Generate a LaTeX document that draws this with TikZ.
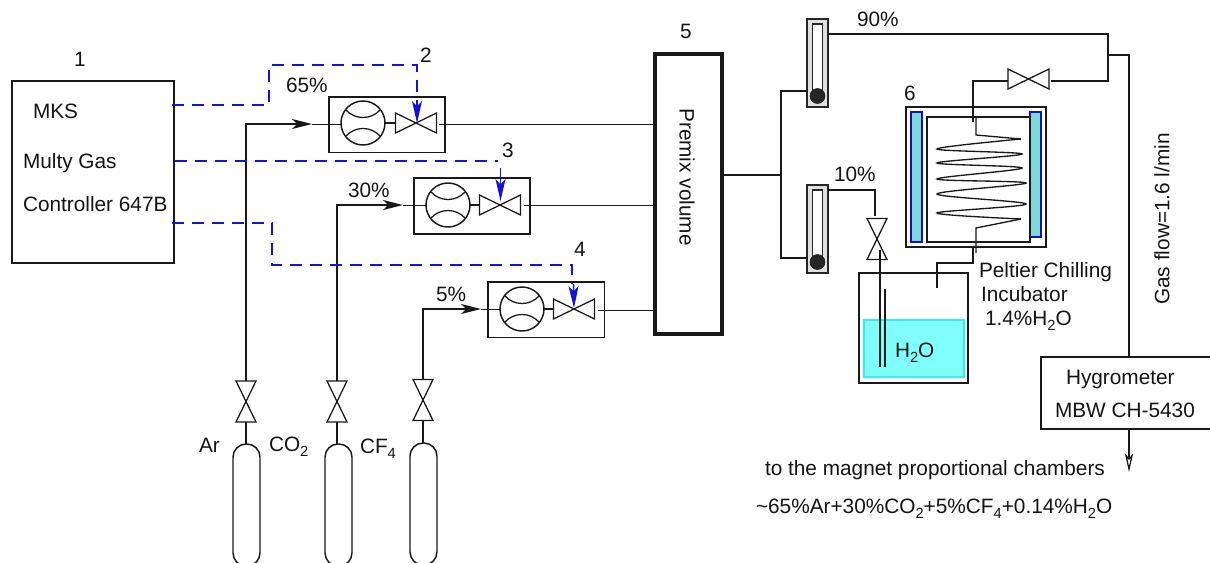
\documentclass[tikz,border=0pt]{standalone}
\usepackage{fontspec}
\setmainfont{Liberation Sans}
\usetikzlibrary{arrows.meta}
\newcommand\subs[1]{\raisebox{-3.6pt}{\fontsize{11}{12}\selectfont #1}}
\tikzset{
  x=0.75pt,y=-0.75pt,
  every node/.style={font=\fontsize{15.6}{18}\selectfont,inner sep=0pt,outer sep=0pt,text=black!92},
  pipe/.style={draw=black!90,line width=1.1pt},
  thinpipe/.style={draw=black!90,line width=0.75pt},
  boxed/.style={draw=black!90,line width=1.1pt,fill=none,rectangle},
  ctrl/.style={draw=ctrlblue,line width=1.15pt,dash pattern=on 9pt off 6pt},
  ctrltip/.style={draw=ctrlblue,fill=ctrlblue,line width=1.1pt,-{Stealth[length=16.5pt,width=7.5pt,inset=4pt]}},
  flowtip/.style={-{Stealth[length=15pt,width=7.5pt,inset=4pt]}},
  cylinder shape/.style={draw=black!90,line width=1.1pt,rounded corners=9.8pt},
  label/.style={anchor=west},
  hvalve/.pic={\draw[pipe,line width=0.95pt] (-20.5,-10) -- (20.5,10) -- (20.5,-10) -- (-20.5,10) -- cycle;},
  vvalve/.pic={\draw[pipe,line width=0.95pt] (-10,-20.5) -- (10,20.5) -- (-10,20.5) -- (10,-20.5) -- cycle;},
  mfc/.pic={
    \draw[pipe] (0,0) circle[radius=22];
    \draw[pipe,line width=0.95pt] (-17,-13) .. controls (-8,-3) and (8,-3) .. (17,-13);
    \draw[pipe,line width=0.95pt] (-17,13) .. controls (-8,3) and (8,3) .. (17,13);
  },
  rotameter/.pic={
    \draw[draw=black!85,line width=1.1pt,fill=black!12] (-10.5,-44) rectangle (10.5,44);
    \draw[draw=black!85,line width=1.1pt,fill=white] (-5,-39) rectangle (5,38);
    \fill[black!85,draw=black!90] (0,33) circle[radius=7.5];
  }
}
\definecolor{ctrlblue}{HTML}{1414D2}
\definecolor{barcyan}{HTML}{7FD8D8}
\definecolor{waterc}{HTML}{80FFFF}
\definecolor{wateredge}{HTML}{30F0F0}
\begin{document}
\begin{tikzpicture}
\useasboundingbox (0,0) rectangle (1210,562);

% boxes
\node[boxed,anchor=north west,minimum width=121.5pt,minimum height=136.5pt] (ctrlbox) at (12,81) {};
\node[boxed,anchor=north west,minimum width=87pt,minimum height=41.5pt] (mfcA) at (329,97) {};
\node[boxed,anchor=north west,minimum width=87pt,minimum height=42pt] (mfcB) at (414,178) {};
\node[boxed,anchor=north west,minimum width=87.5pt,minimum height=41.5pt] (mfcC) at (488,282) {};
\node[boxed,line width=3pt,anchor=north west,minimum width=50pt,minimum height=210pt] (premix) at (655,54) {};
\node[rotate=-90] (premixlabel) at (687,177) {Premix volume};

% cells inside mass flow controllers
\pic at (363,123) {mfc};
\pic at (448,205) {mfc};
\pic at (522,309) {mfc};
\pic at (416,123) {hvalve};
\pic at (500,205) {hvalve};
\pic at (574,309) {hvalve};
\draw[pipe] (385,123) -- (395,123);
\draw[pipe] (470,205) -- (479,205);
\draw[pipe] (544,309) -- (553,309);

% outlets to premix
\coordinate (outA) at (439,124);
\coordinate (outB) at (524,205);
\coordinate (outC) at (598,310);
\draw[thinpipe] (outA) -- (outA -| premix.west);
\draw[thinpipe] (outB) -- (outB -| premix.west);
\draw[thinpipe] (outC) -- (outC -| premix.west);

% cylinders (clipped by the picture's lower edge)
\begin{scope}
\clip (0,0) rectangle (1210,562);
\draw[cylinder shape] (233,444) rectangle (260,566);
\draw[cylinder shape] (325,444) rectangle (352,566);
\draw[cylinder shape] (410,443) rectangle (437,565);
\end{scope}
\pic at (246,401.5) {vvalve};
\pic at (337,401.5) {vvalve};
\pic at (423,400) {vvalve};
\coordinate (cylA) at (246,444);
\coordinate (cylB) at (337,444);
\coordinate (cylC) at (423,443);
\draw[pipe] (cylA) -- (246,422);
\draw[pipe] (cylB) -- (337,422);
\draw[pipe] (cylC) -- (423,421);

% gas lines
\coordinate (headA) at (312,124);
\coordinate (headB) at (403,205);
\coordinate (headC) at (481,309);
\draw[pipe,flowtip] (246,381) -- (246,124) -- (headA);
\draw[pipe,flowtip] (337,381) -- (337,205) -- (headB);
\draw[pipe,flowtip] (423,379) -- (423,309) -- (headC);
\draw[thinpipe] (headA) -- (341,124);
\draw[thinpipe] (headB) -- (426,205);
\draw[thinpipe] (headC) -- (500,309);

% control lines
\draw[ctrl] (172,105) -- (269,105) -- (269,65) -- (417,65) -- (417,100);
\draw[ctrltip] (417,100) -- (417,123);
\draw[ctrl] (175,161) -- (498,161);
\draw[ctrltip] (500.5,168) -- (500.5,201);
\draw[ctrl] (172,223) -- (272,223) -- (272,265) -- (572,265) -- (572,284);
\draw[ctrltip] (573.5,284) -- (574,308);

% split to rotameters
\pic at (817.5,63) {rotameter};
\pic at (817.5,229) {rotameter};
\coordinate (split) at (781,175);
\draw[pipe] (premix.east |- split) -- (split);
\draw[pipe] (807,91) -- (781,91) -- (781,258) -- (807,258);

% 90% branch
\coordinate (join) at (1108,55);
\draw[pipe] (828,34) -- (1108,34) -- (1108,81) -- (1051,81);
\draw[pipe] (join) -- (1129,55) -- (1129,357);
\pic at (1028.5,79) {hvalve};
\draw[pipe] (1008,81) -- (973,81) -- (973,122);

% incubator
\node[boxed,anchor=north west,minimum width=105pt,minimum height=105pt] (incub) at (906,107) {};
\draw[draw=ctrlblue!90!black,line width=0.9pt,fill=barcyan] (911,112) rectangle (922,242);
\draw[draw=ctrlblue!90!black,line width=0.9pt,fill=barcyan] (1030,112) rectangle (1041,237);
\node[boxed,anchor=north west,minimum width=77.25pt,minimum height=93.75pt] (chamber) at (927,117) {};
\draw[pipe,line width=1pt] (976,116) -- (976,135) -- (1021,139);
\draw[pipe,line width=1pt] plot[smooth,tension=0.55] coordinates {(1021,139) (937,149) (1022,154) (937,163) (1022,168) (937,179) (1026,183) (937,194) (1026,204) (937,213) (1021,219)};
\draw[pipe,line width=1pt] (1021,219) -- (976,228) -- (976,253);
\draw[pipe] (973,247) -- (973,263) -- (937,263) -- (937,288);

% 10% branch and bubbler
\draw[pipe] (828,190) -- (875,190) -- (875,216);
\pic at (877,239) {vvalve};
\node[boxed,anchor=north west,minimum width=81.75pt,minimum height=82.5pt] (bubbler) at (859,273) {};
\draw[draw=wateredge,line width=1pt,fill=waterc] (864,320) rectangle (964,377);
\draw[pipe] (880,250) -- (880,367);
\draw[pipe] (885,289) -- (885,367);

% hygrometer
\node[boxed,anchor=north west,minimum width=129pt,minimum height=54pt] (hygro) at (1041,357) {};
\coordinate (outlet) at (1129,472);
\draw[pipe,line width=0.95pt,-{Stealth[open,length=13.5pt,width=6pt,inset=3pt]}] (1129,429) -- (outlet);

% labels
\node (n1) at (80,59) {1};
\node (n2) at (426,55) {2};
\node (n3) at (508,150) {3};
\node (n4) at (580,249) {4};
\node (n5) at (686,31) {5};
\node (n6) at (910,93) {6};
\node[label] (mks) at (33,111) {MKS};
\node[label] (multy) at (23,163) {Multy Gas};
\node[label] (contr) at (23,204) {Controller 647B};
\node[label] (pA) at (286,85) {65\%};
\node[label] (pB) at (348,190) {30\%};
\node[label] (pC) at (436,294) {5\%};
\node[label] (p90) at (857,19) {90\%};
\node[label] (p10) at (834,174) {10\%};
\node[label] (ar) at (199,445) {Ar};
\node[label] (co) at (269,447) {CO\subs{2}};
\node[label] (cf) at (360,449) {CF\subs{4}};
\node[label] (pelt) at (979,272) {Peltier Chilling};
\node[label] (inc) at (981,294) {Incubator};
\node[label] (hum) at (985,321) {1.4\%H\subs{2}O};
\node[label] (wat) at (895,353) {H\subs{2}O};
\node[label] (hy) at (1066,379) {Hygrometer};
\node[label] (mbw) at (1055,410) {MBW CH-5430};
\node[rotate=90] (flow) at (1162,219) {Gas flow=1.6 l/min};
\node[label] (tomag) at (765,470) {to the magnet proportional chambers};
\node[label] (mix) at (756,509) {\textasciitilde 65\%Ar+30\%CO\subs{2}+5\%CF\subs{4}+0.14\%H\subs{2}O};
\end{tikzpicture}
\end{document}
